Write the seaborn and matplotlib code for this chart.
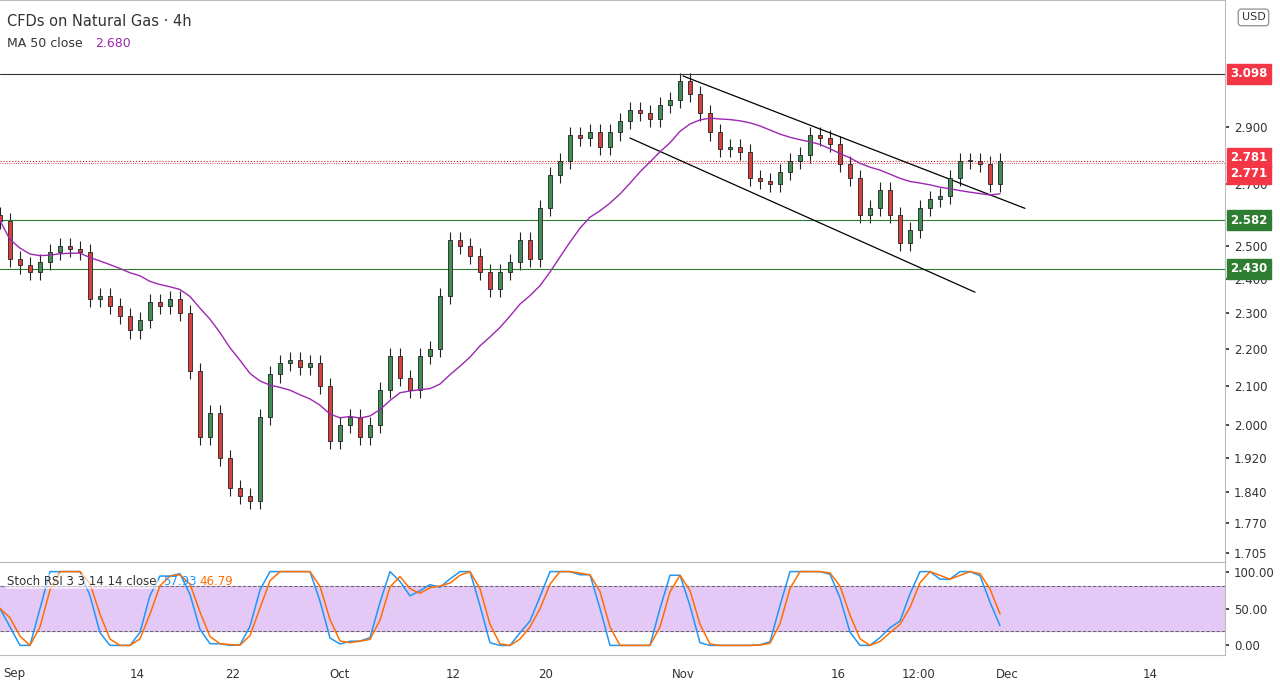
import numpy as np, pandas as pd
import matplotlib
matplotlib.use("Agg")
import matplotlib.pyplot as plt
import seaborn as sns
from matplotlib.ticker import FixedLocator, FixedFormatter, NullLocator

sns.set_theme(style="white")
plt.rcParams['font.family'] = ['DejaVu Sans']

closes = [2.58,2.46,2.44,2.42,2.45,2.48,2.50,2.49,2.48,2.34,2.35,2.32,2.29,2.25,2.28,2.33,2.32,2.34,2.30,2.14,
          1.97,2.03,1.92,1.85,1.83,1.82,2.02,2.13,2.16,2.17,2.15,2.16,2.10,1.96,2.00,2.02,1.97,2.00,2.09,2.18,
          2.12,2.09,2.18,2.20,2.35,2.52,2.50,2.47,2.42,2.37,2.42,2.45,2.52,2.46,2.62,2.73,2.78,2.87,2.86,2.88,
          2.83,2.88,2.92,2.96,2.95,2.93,2.98,3.00,3.07,3.02,2.95,2.88,2.82,2.83,2.81,2.72,2.71,2.70,2.74,2.78,
          2.80,2.87,2.86,2.84,2.77,2.72,2.60,2.62,2.68,2.60,2.51,2.55,2.62,2.65,2.66,2.72,2.78,2.78,2.77,2.70,2.78]
first_open = 2.60
date_labels = ["Sep","14","22","Oct","12","20","Nov","16","12:00","Dec","14"]
date_px = [14,137,233,340,453,546,683,838,919,1007,1150]
price_ticks = [2.9,2.7,2.5,2.4,2.3,2.2,2.1,2.0,1.92,1.84,1.77,1.705]
levels = [3.098,2.781,2.771,2.582,2.430]
level_cols = ['#f23645','#f23645','#f23645','#2e7d32','#2e7d32']

df = pd.DataFrame({'close': closes})
df['open'] = [first_open] + closes[:-1]
df['x'] = np.arange(len(df))
df['ma'] = df['close'].rolling(15, min_periods=1).mean()
d = df['close'].diff()
g = d.clip(lower=0).rolling(6, min_periods=1).mean()
l = (-d.clip(upper=0)).rolling(6, min_periods=1).mean()
rsi = 100 - 100/(1 + g/(l+1e-9))
mn = rsi.rolling(6, min_periods=1).min(); mx = rsi.rolling(6, min_periods=1).max()
st = ((rsi-mn)/(mx-mn+1e-9)*100).fillna(50)
df['k'] = st.rolling(2, min_periods=1).mean()
df['d'] = df['k'].rolling(2, min_periods=1).mean()

fig = plt.figure(figsize=(12.8,6.8), dpi=100)
W = 1225/1280
ax = fig.add_axes([0, 1-562/680, W, 562/680])
ax2 = fig.add_axes([0, 1-655/680, W, 93/680], sharex=ax)

up, dn = '#3f8f55', '#d94040'
for _, r in df.iterrows():
    c = up if r.close >= r.open else dn
    lo, hi = min(r.open, r.close), max(r.open, r.close)
    ax.vlines(r.x, lo*0.99, hi*1.01, color='#222', lw=0.8, zorder=2)
    ax.bar(r.x, hi-lo if hi-lo > 0.003 else 0.003, bottom=lo, width=0.45, color=c, edgecolor='#222', lw=0.6, zorder=3)
sns.lineplot(data=df, x='x', y='ma', ax=ax, color='#9c27b0', lw=1, zorder=4)

ax.axhline(3.098, color='#333', lw=0.8)
ax.axhline(2.781, color='#c62828', lw=0.8, ls=':')
ax.axhline(2.771, color='#c62828', lw=0.6, ls=':')
ax.axhline(2.582, color='#2e7d32', lw=0.8)
ax.axhline(2.430, color='#2e7d32', lw=0.8)
ax.plot([68.3,102.5],[3.09,2.62], color='black', lw=0.9)
ax.plot([63,97.5],[2.86,2.36], color='black', lw=0.9)

ax.set_yscale('log')
ax.set_ylim(1.686, 3.397)
ax.set_xlim(0, 122.5)
ax.yaxis.tick_right()
ax.yaxis.set_major_locator(FixedLocator(price_ticks))
ax.yaxis.set_major_formatter(FixedFormatter([f"{t:.3f}" for t in price_ticks]))
ax.yaxis.set_minor_locator(NullLocator())
ax.tick_params(axis='y', labelsize=8.5, colors='#333', length=3)
ax.tick_params(axis='x', bottom=False, labelbottom=False)
ax.set_xlabel(''); ax.set_ylabel('')
for v, c in zip(levels, level_cols):
    yy = {2.781: 2.79, 2.771: 2.735}.get(v, v)
    ax.annotate(f"{v:.3f}", xy=(1.0, yy), xycoords=('axes fraction','data'), xytext=(4,0), textcoords='offset points',
                va='center', ha='left', fontsize=8.5, color='white', fontweight='bold',
                bbox=dict(boxstyle='square,pad=0.3', fc=c, ec=c), annotation_clip=False, zorder=10)
ax.text(0.006, 0.975, "CFDs on Natural Gas · 4h", transform=ax.transAxes, fontsize=10.5, color='#333', va='top')
ax.text(0.006, 0.935, "MA 50 close", transform=ax.transAxes, fontsize=9, color='#333', va='top')
ax.text(0.078, 0.935, "2.680", transform=ax.transAxes, fontsize=9, color='#9c27b0', va='top')

ax2.axhspan(20, 80, color='#e1c4f5', alpha=0.9, zorder=0)
ax2.axhline(80, color='#666', lw=0.7, ls='--'); ax2.axhline(20, color='#666', lw=0.7, ls='--')
sns.lineplot(data=df, x='x', y='k', ax=ax2, color='#2196f3', lw=1.1)
sns.lineplot(data=df, x='x', y='d', ax=ax2, color='#ff6d00', lw=1.1)
ax2.set_ylim(-13, 113)
ax2.yaxis.tick_right()
ax2.set_yticks([0,50,100]); ax2.set_yticklabels(['0.00','50.00','100.00'])
ax2.tick_params(axis='y', labelsize=8.5, colors='#333', length=3)
ax2.set_xticks([p/10 for p in date_px]); ax2.set_xticklabels(date_labels)
ax2.tick_params(axis='x', labelsize=8.5, colors='#333', length=3, pad=6)
ax2.set_xlabel(''); ax2.set_ylabel('')
ax2.text(0.006, 0.86, "Stoch RSI 3 3 14 14 close", transform=ax2.transAxes, fontsize=8.5, color='#333', va='top',
         bbox=dict(fc='white', ec='none', alpha=0.6, pad=1))
ax2.text(0.133, 0.86, "57.93", transform=ax2.transAxes, fontsize=8.5, color='#2196f3', va='top')
ax2.text(0.163, 0.86, "46.79", transform=ax2.transAxes, fontsize=8.5, color='#ff6d00', va='top')
for a in (ax, ax2):
    for s in a.spines.values(): s.set_color('#bbb'); s.set_linewidth(0.8)
    a.spines['left'].set_visible(False)
fig.text(0.97, 0.97, "USD", fontsize=8, color='#333', bbox=dict(boxstyle='round,pad=0.3', fc='white', ec='#999'))
fig.savefig("out.png", dpi=100)
